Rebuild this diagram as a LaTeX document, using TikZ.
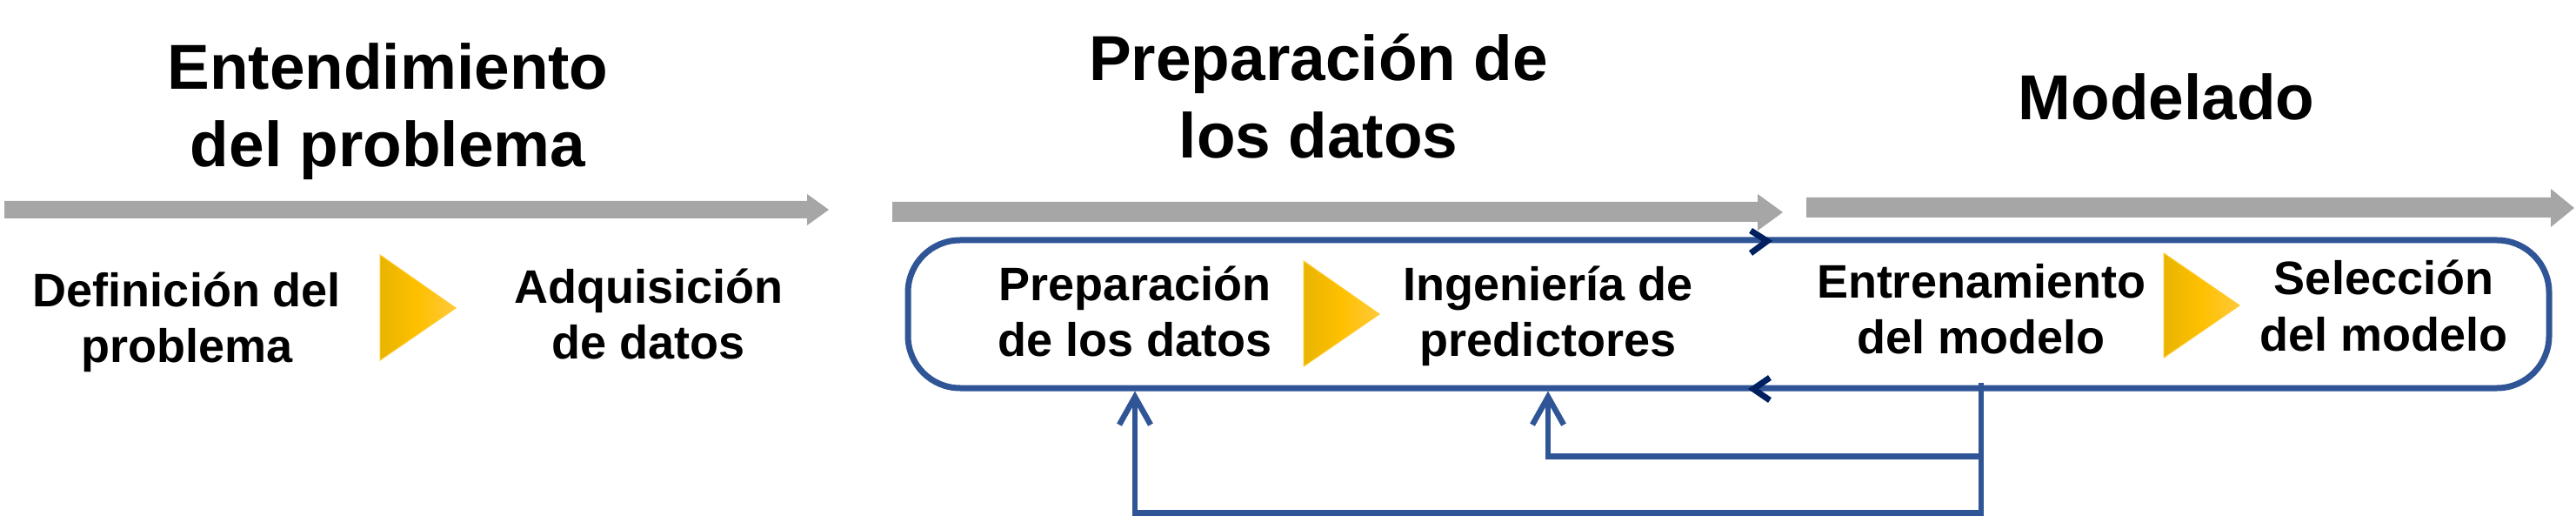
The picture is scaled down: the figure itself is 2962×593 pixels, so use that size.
\documentclass[tikz,border=0pt]{standalone}
\usepackage{fontspec}
\setmainfont{Liberation Sans}
\usetikzlibrary{arrows.meta,calc}
\definecolor{arrowgray}{HTML}{A6A6A6}
\definecolor{loopblue}{HTML}{2F5597}
\definecolor{navy}{HTML}{002060}
\definecolor{goldL}{HTML}{E8B400}
\definecolor{goldM}{HTML}{FFC000}
\definecolor{goldR}{HTML}{FFC93C}
\begin{document}
\begin{tikzpicture}[x=1pt,y=-1pt,
  headtxt/.style={font=\fontsize{73}{89}\selectfont\bfseries, align=center, inner sep=0pt},
  bodytxt/.style={font=\fontsize{54}{64}\selectfont\bfseries, align=center, inner sep=0pt},
  grayarrow/.style={fill=arrowgray},
  gtri/.style={left color=goldL, right color=goldR, middle color=goldM, draw=goldM!85!white, line width=1pt},
  loopbox/.style={draw=loopblue, line width=7pt, rounded corners=60pt, minimum width=1887pt, minimum height=170pt, inner sep=0pt},
  chev/.style={draw=navy, line width=7pt, line join=miter},
  fb/.style={draw=loopblue, line width=6.5pt, line join=miter, -{Straight Barb[length=32pt,width=36pt]}}
]
\useasboundingbox (0,0) rectangle (2962,593);

% phase arrows
\fill[grayarrow] (5,231) -- (928,231) -- (928,223) -- (953,241) -- (928,259) -- (928,251) -- (5,251) -- cycle;
\fill[grayarrow] (1026,232) -- (2021,232) -- (2021,223) -- (2050,244) -- (2021,265) -- (2021,255) -- (1026,255) -- cycle;
\fill[grayarrow] (2077,227) -- (2933,227) -- (2933,217) -- (2960,239) -- (2933,261) -- (2933,250) -- (2077,250) -- cycle;

% headings
\node[headtxt] (h1) at (446,129.7) {\strut Entendimiento\\\strut del problema};
\node[headtxt] (h2) at (1516,119.7) {\strut Preparación de\\\strut los datos};
\node[headtxt] (h3) at (2491,120.2) {\strut Modelado};

% loop box
\node[loopbox] (loop) at (1987.5,361) {};

% steps
\node[bodytxt] (def) at (215,371.2) {\strut Definición del\\\strut problema};
\node[bodytxt] (adq) at (746,367.2) {\strut Adquisición\\\strut de datos};
\node[bodytxt] (prep) at (1305,364.2) {\strut Preparación\\\strut de los datos};
\node[bodytxt] (ing) at (1780,364.2) {\strut Ingeniería de\\\strut predictores};
\node[bodytxt] (train) at (2278,361.2) {\strut Entrenamiento\\\strut del modelo};
\node[bodytxt] (sel) at (2741,358.2) {\strut Selección\\\strut del modelo};

% triangles
\path[gtri] (437,293) -- (524,354) -- (437,414) -- cycle;
\path[gtri] (1499,300) -- (1586,361) -- (1499,421) -- cycle;
\path[gtri] (2488,291) -- (2575,351) -- (2488,411) -- cycle;

% chevrons on loop
\draw[chev] (2013,265) -- (2032,277) -- (2013,291);
\draw[chev] (2035,434) -- (2016,447) -- (2035,460);

% feedback
\coordinate (fbstart) at ($(train |- loop.south)+(0,-10)$);
\coordinate (fbmid) at ($(fbstart)+(0,85)$);
\coordinate (fbend) at ($(fbstart)+(0,150)$);
\draw[fb] (fbstart) -- (fbend) -| (prep |- loop.south);
\draw[fb] (fbmid) -| (ing |- loop.south);
\end{tikzpicture}
\end{document}
